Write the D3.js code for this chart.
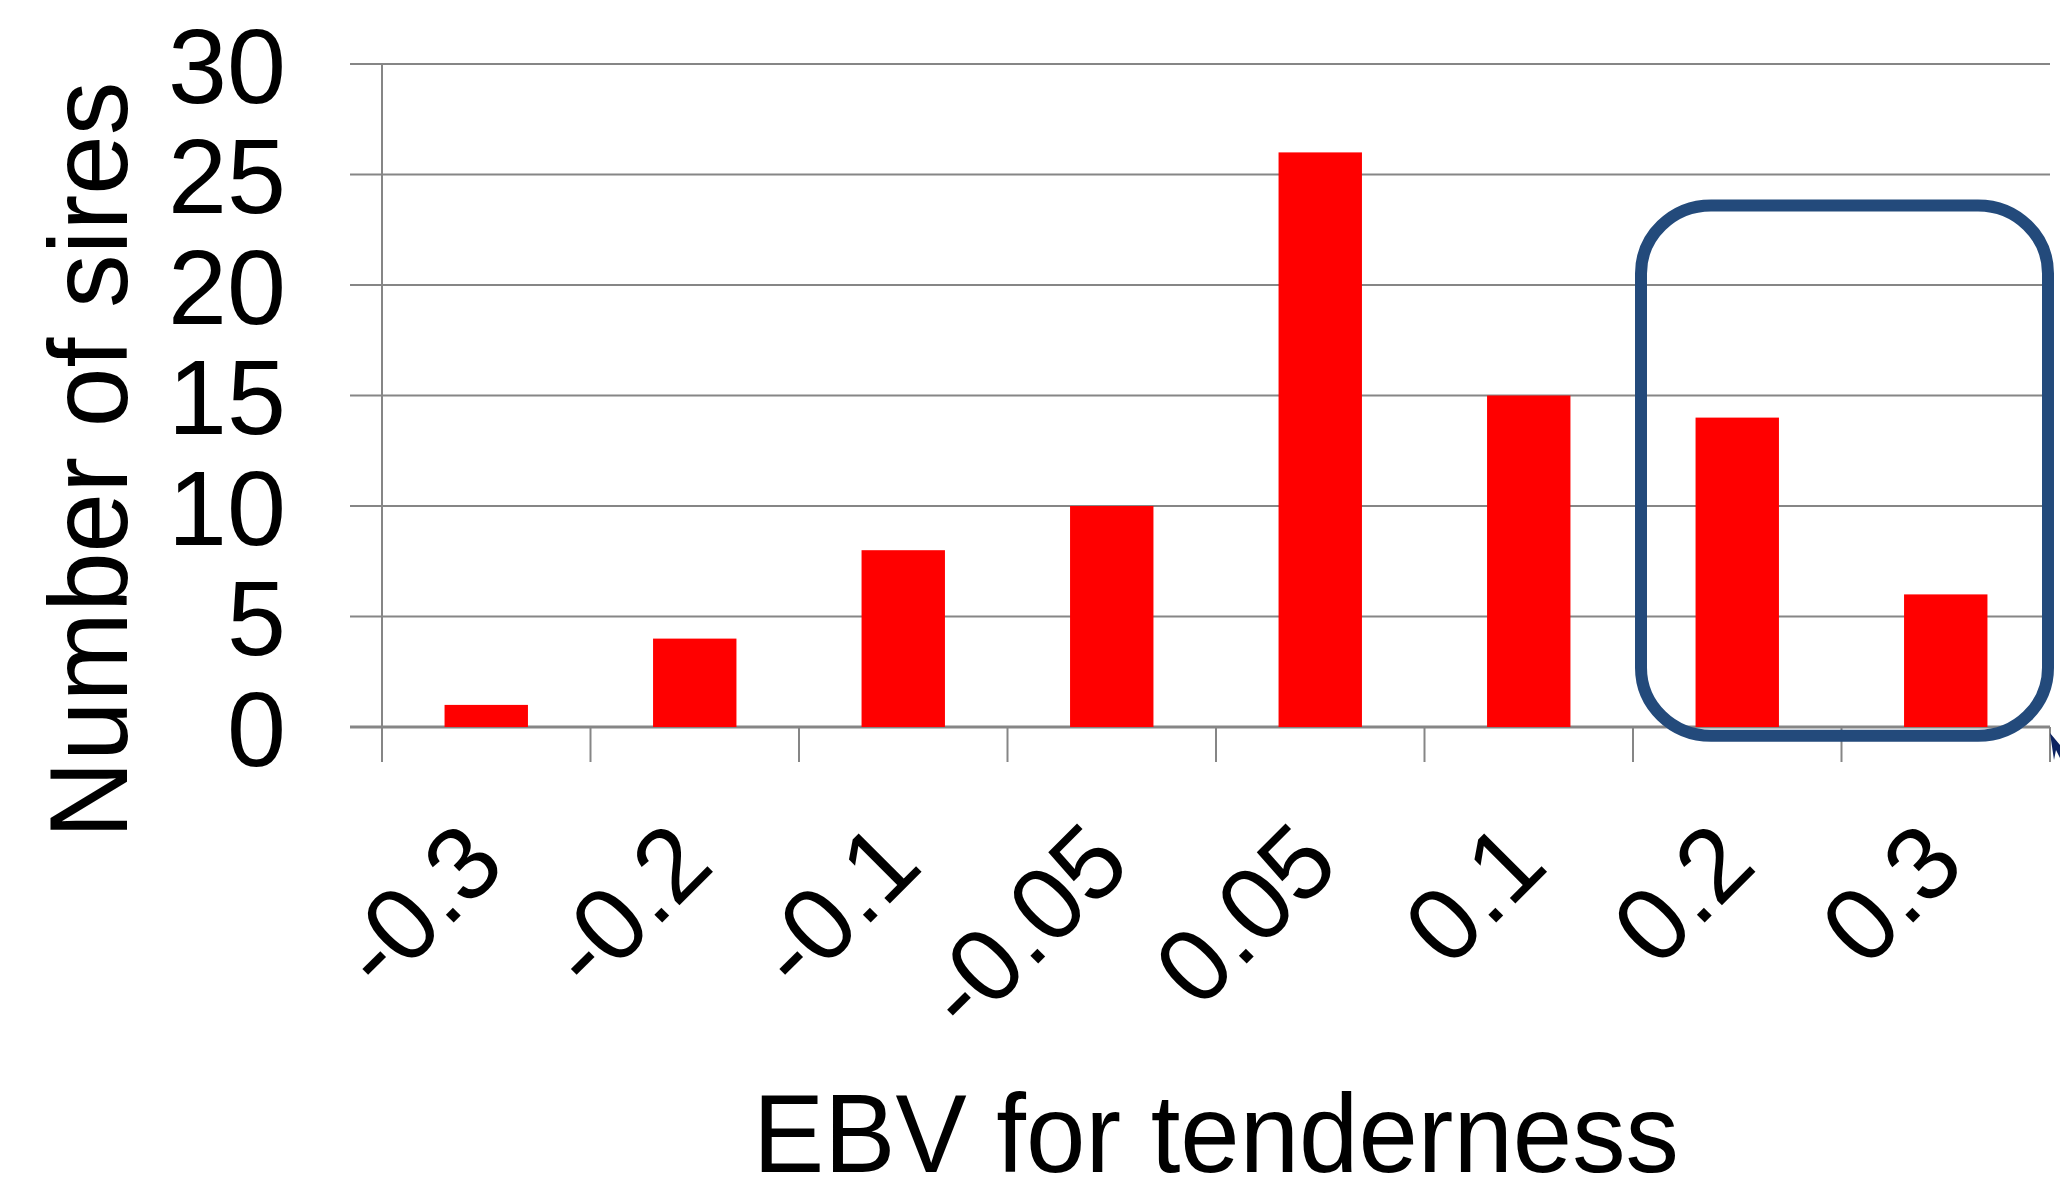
<!DOCTYPE html>
<html>
<head>
<meta charset="utf-8">
<script src="https://cdn.jsdelivr.net/npm/d3@7"></script>
<style>
    body { margin: 0; background: #fff; }
    svg { display: block; font-family: "Liberation Sans", Arial, sans-serif; }
</style>
</head>
<body>
<svg id="chart"></svg>
<script>
const categories = ["-0.3", "-0.2", "-0.1", "-0.05", "0.05", "0.1", "0.2", "0.3"];
const sireCounts = [1, 4, 8, 10, 26, 15, 14, 6];
const yTicks     = [0, 5, 10, 15, 20, 25, 30];

let svgWidth = 2060, svgHeight = 1188;
let plotLeft = 382, plotRight = 2050, plotTop = 64, plotBottom = 727;

let svg = d3.select("#chart").attr("width", svgWidth).attr("height", svgHeight);

let x = d3.scaleBand()
          .domain(categories)
          .range([plotLeft, plotRight])
          .paddingInner(0.6)
          .paddingOuter(0.3);

let y = d3.scaleLinear()
          .domain([0, 30])
          .range([plotBottom, plotTop]);

let grey = "#868686";

// gridlines, they stick out a bit left of the axis
svg.append("g")
   .selectAll("line")
   .data(yTicks)
   .enter()
   .append("line")
   .attr("x1", plotLeft - 32)
   .attr("x2", plotRight)
   .attr("y1", d => y(d))
   .attr("y2", d => y(d))
   .attr("stroke", grey)
   .attr("stroke-width", d => d === 0 ? 3 : 2);

// vertical axis line
svg.append("line")
   .attr("x1", plotLeft).attr("x2", plotLeft)
   .attr("y1", y(30)).attr("y2", plotBottom + 35)
   .attr("stroke", grey)
   .attr("stroke-width", 2);

// ticks between the categories
let step = x.step();
svg.append("g")
   .selectAll("line")
   .data(d3.range(1, categories.length + 1))
   .enter()
   .append("line")
   .attr("x1", i => plotLeft + i * step)
   .attr("x2", i => plotLeft + i * step)
   .attr("y1", plotBottom)
   .attr("y2", plotBottom + 35)
   .attr("stroke", grey)
   .attr("stroke-width", 2);

// bars
svg.append("g")
   .selectAll("rect")
   .data(sireCounts)
   .enter()
   .append("rect")
   .attr("x", (d, i) => x(categories[i]))
   .attr("width", x.bandwidth())
   .attr("y", d => y(d))
   .attr("height", d => y(0) - y(d))
   .attr("fill", "#ff0000");

// y tick labels
let yAxis = svg.append("g")
               .attr("transform", "translate(" + plotLeft + ",0)")
               .call(d3.axisLeft(y).tickValues(yTicks).tickSize(0).tickPadding(96));
yAxis.select(".domain").remove();
yAxis.selectAll("text")
     .attr("font-family", "Liberation Sans, Arial, sans-serif")
     .attr("font-size", 106)
     .attr("fill", "#000")
     .attr("dy", "0.36em");

// x tick labels, rotated
let xAxis = svg.append("g")
               .attr("transform", "translate(0," + plotBottom + ")")
               .call(d3.axisBottom(x).tickSize(0));
xAxis.select(".domain").remove();
xAxis.selectAll("text")
     .attr("font-family", "Liberation Sans, Arial, sans-serif")
     .attr("font-size", 104)
     .attr("fill", "#000")
     .attr("text-anchor", "end")
     .attr("x", 0).attr("y", 0).attr("dy", 0)
     .attr("transform", "translate(22,141) rotate(-45)");

// axis titles (a little condensed, like the original)
svg.append("text")
   .attr("transform", "translate(127,460) rotate(-90)")
   .attr("text-anchor", "middle")
   .attr("font-size", 111)
   .attr("textLength", 757)
   .attr("lengthAdjust", "spacingAndGlyphs")
   .text("Number of sires");

svg.append("text")
   .attr("x", (plotLeft + plotRight) / 2)
   .attr("y", 1172)
   .attr("text-anchor", "middle")
   .attr("font-size", 111)
   .attr("textLength", 926)
   .attr("lengthAdjust", "spacingAndGlyphs")
   .text("EBV for tenderness");

// highlight box round the two last bars
let boxX = plotLeft + 6 * step + 8;
let boxRight = plotRight - 2;
svg.append("rect")
   .attr("x", boxX)
   .attr("y", y(23.6))
   .attr("width", boxRight - boxX)
   .attr("height", y(-0.4) - y(23.6))
   .attr("rx", 70).attr("ry", 68)
   .attr("fill", "none")
   .attr("stroke", "#234a7b")
   .attr("stroke-width", 12);

// little arrow head poking in at the corner
svg.append("path")
   .attr("d", "M2050,733 L2060,745 L2060,758 L2056,750 L2054,760 Z")
   .attr("fill", "#0c2260");
</script>
</body>
</html>
